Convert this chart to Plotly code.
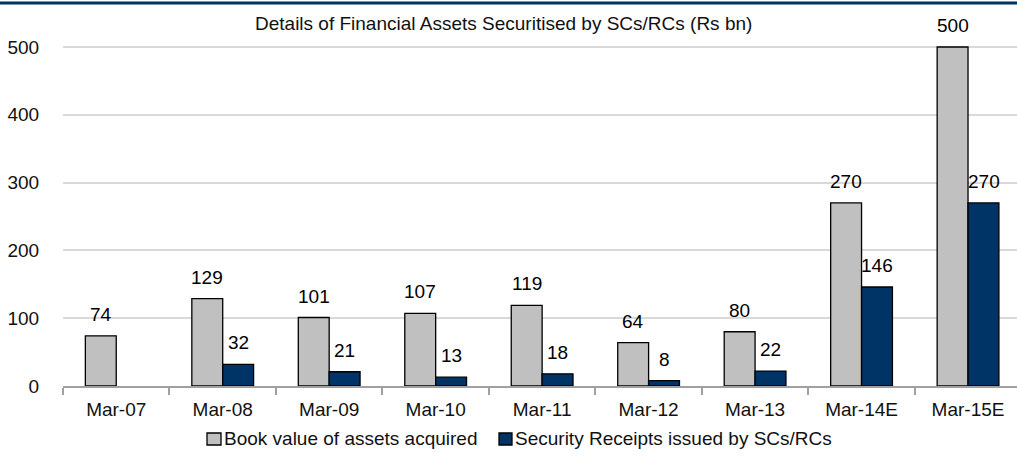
import plotly.graph_objects as go

categories = ["Mar-07", "Mar-08", "Mar-09", "Mar-10", "Mar-11", "Mar-12", "Mar-13", "Mar-14E", "Mar-15E"]
book_value = [74, 129, 101, 107, 119, 64, 80, 270, 500]
security_receipts = [None, 32, 21, 13, 18, 8, 22, 146, 270]
y_ticks = [0, 100, 200, 300, 400, 500]
series_names = ["Book value of assets acquired", "Security Receipts issued by SCs/RCs"]

FONT = "Liberation Sans, Arial, sans-serif"
FS = 19
GRAY = "#C0C0C0"
NAVY = "#003366"

# plot area in pixels: x 63..1017, y 20..386
L, R, T, B = 63, 1017, 20, 386
def px(x):
    return (x - L) / (R - L)
def py(y):
    return (B - y) / (B - T)

fig = go.Figure()
fig.add_trace(go.Bar(x=categories, y=book_value, name=series_names[0],
                     marker=dict(color=GRAY, line=dict(color="black", width=1.3))))
fig.add_trace(go.Bar(x=categories, y=security_receipts, name=series_names[1],
                     marker=dict(color=NAVY, line=dict(color="black", width=1.3))))

# data labels
for i, c in enumerate(categories):
    for vals, shift in ((book_value, -15.5), (security_receipts, 15.5)):
        v = vals[i]
        if v is None:
            continue
        fig.add_annotation(x=c, y=v, text=str(v), showarrow=False, xshift=shift,
                           yanchor="bottom", yshift=9,
                           font=dict(family=FONT, size=FS, color="black"))

# chart title inside
fig.add_annotation(x=px(503.5), xref="paper", y=py(23), yref="paper", yanchor="middle",
                   xanchor="center",
                   text="Details of Financial Assets Securitised by SCs/RCs (Rs bn)",
                   showarrow=False, font=dict(family=FONT, size=FS, color="#111"))

# top rule line
fig.add_shape(type="line", xref="paper", yref="paper", x0=px(0), x1=px(1017),
              y0=py(3), y1=py(3), line=dict(color=NAVY, width=3))

# legend (manual, to match compact spacing)
legend_items = [(207, 221, 224, GRAY), (499, 512, 515, NAVY)]
for (mx0, mx1, tx, col), name in zip(legend_items, series_names):
    fig.add_shape(type="rect", xref="paper", yref="paper", x0=px(mx0), x1=px(mx1),
                  y0=py(445), y1=py(433), fillcolor=col, line=dict(color="black", width=1.3))
    fig.add_annotation(x=px(tx), xref="paper", y=py(438), yref="paper", xanchor="left",
                       yanchor="middle", text=name, showarrow=False, xshift=-2,
                       font=dict(family=FONT, size=FS, color="#111"))

fig.update_layout(
    width=1017, height=466,
    margin=dict(l=L, r=1017 - R, t=T, b=466 - B, autoexpand=False),
    paper_bgcolor="white", plot_bgcolor="white",
    barmode="group", bargap=0.42, bargroupgap=0,
    font=dict(family=FONT, size=FS, color="#111"),
    showlegend=False,
    xaxis=dict(type="category", range=[-0.5, 8.46], showline=True, linecolor="#A0A0A0",
               linewidth=2, ticks="outside", tickson="boundaries", ticklen=7,
               tickcolor="#A0A0A0", tickwidth=2, showgrid=False, ticklabelstandoff=5,
               tickfont=dict(family=FONT, size=FS, color="#111")),
    yaxis=dict(range=[0, (B - T) / 0.678], tickvals=y_ticks, showgrid=True, gridcolor="#D9D9D9",
               gridwidth=1.5, zeroline=False, showline=False, ticks="outside",
               ticklen=19, tickcolor="rgba(0,0,0,0)",
               tickfont=dict(family=FONT, size=FS, color="#111")),
)

fig.write_html("out.html", config={"displayModeBar": False},
               post_script="document.body.style.margin='0';")
